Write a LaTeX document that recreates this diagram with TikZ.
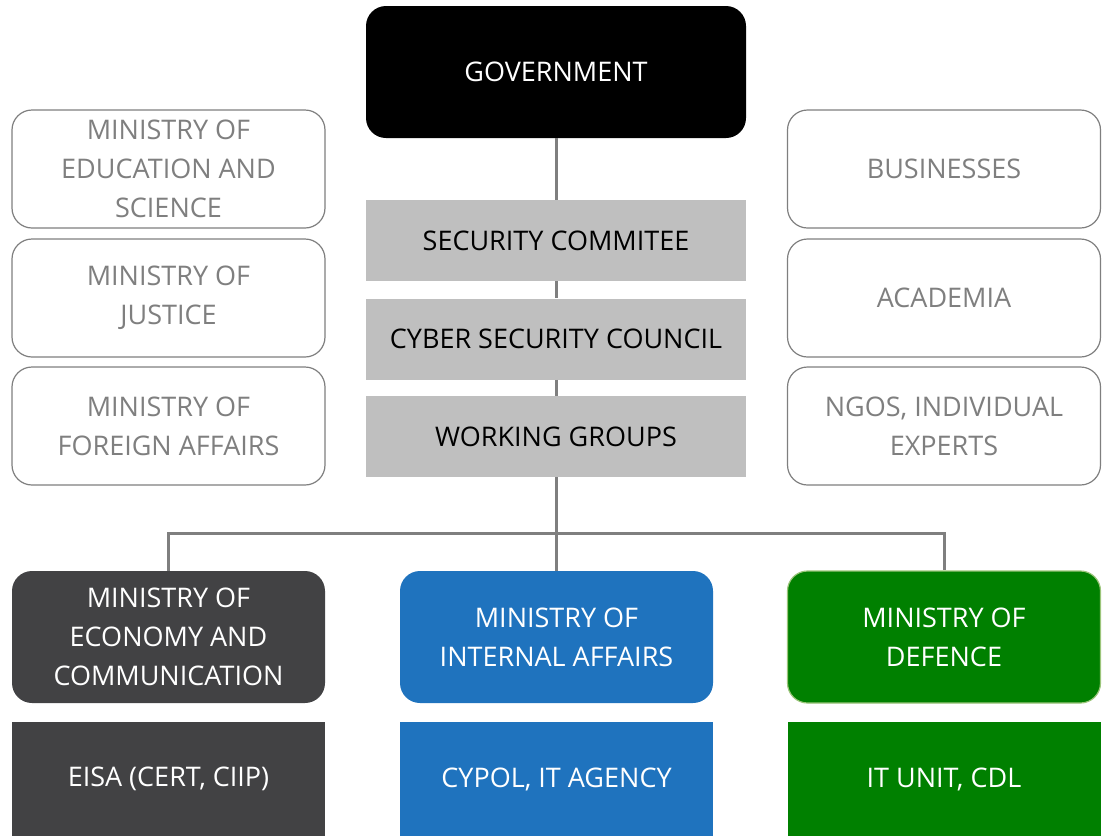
\documentclass[tikz,border=0pt]{standalone}
\usepackage{fontspec}
\setmainfont{Open Sans}
\usepackage{xcolor}

\definecolor{linegray}{HTML}{7F7F7F}
\definecolor{boxgray}{HTML}{BFBFBF}
\definecolor{darkmin}{HTML}{424244}
\definecolor{bluemin}{HTML}{1F73BE}
\definecolor{greenmin}{HTML}{008000}
\definecolor{greenedge}{HTML}{9BC57A}

\begin{document}
\begin{tikzpicture}[x=0.5pt,y=-0.5pt]
        \tikzset{every node/.style={align=center,font=\fontsize{13.5}{19.5}\selectfont,inner sep=0pt},
            topbox/.style={fill=black,text=white,rounded corners=10pt,minimum width=190pt,minimum height=66pt},
            sidebox/.style={draw=linegray,line width=0.6pt,fill=white,text=linegray,rounded corners=10pt,minimum width=156.5pt,minimum height=59pt},
            bodybox/.style={fill=boxgray,text=black,minimum width=190pt,minimum height=40.5pt},
            minbox/.style={text=white,rounded corners=10pt,minimum width=156.5pt,minimum height=66pt},
            unitbox/.style={text=white,minimum width=156.5pt,minimum height=57pt},
            link/.style={draw=linegray,line width=1.5pt}}
        \useasboundingbox (0,0) rectangle (1105,836);
        % top of the hierarchy
        \node[topbox] (gov) at (556,72) {GOVERNMENT};
        \node[bodybox] (com) at (556,240.5) {SECURITY COMMITEE};
        \node[bodybox] (cyb) at (556,339) {CYBER SECURITY COUNCIL};
        \node[bodybox] (wg) at (556,436.5) {WORKING GROUPS};
        % partners on the left
        \node[sidebox] (edu) at (168.5,169) {MINISTRY OF\\EDUCATION AND\\SCIENCE};
        \node[sidebox] (jus) at (168.5,298) {MINISTRY OF\\JUSTICE};
        \node[sidebox] (for) at (168.5,426) {MINISTRY OF\\FOREIGN AFFAIRS};
        % partners on the right
        \node[sidebox] (bus) at (944,169) {BUSINESSES};
        \node[sidebox] (aca) at (944,298) {ACADEMIA};
        \node[sidebox] (ngo) at (944,426) {NGOS, INDIVIDUAL\\EXPERTS};
        % ministries
        \node[minbox,fill=darkmin] (eco) at (168.5,637) {MINISTRY OF\\ECONOMY AND\\COMMUNICATION};
        \node[minbox,fill=bluemin] (int) at (556.5,637) {MINISTRY OF\\INTERNAL AFFAIRS};
        \node[minbox,fill=greenmin,draw=greenedge,line width=0.6pt] (def) at (944,637) {MINISTRY OF\\DEFENCE};
        % units
        \node[unitbox,fill=darkmin] (eisa) at (168.5,779) {EISA (CERT, CIIP)};
        \node[unitbox,fill=bluemin] (cypol) at (556.5,779) {CYPOL, IT AGENCY};
        \node[unitbox,fill=greenmin] (itu) at (944,779) {IT UNIT, CDL};
        % connectors
        \coordinate (fork) at (556,533);
        \draw[link] (gov.south) -- (com.north);
        \draw[link] (com.south) -- (cyb.north);
        \draw[link] (cyb.south) -- (wg.north);
        \draw[link] (wg.south) -- (fork);
        \draw[link] (eco.north) |- (fork) -| (def.north);
        \draw[link] (fork) -- (fork |- int.north);
\end{tikzpicture}
\end{document}
